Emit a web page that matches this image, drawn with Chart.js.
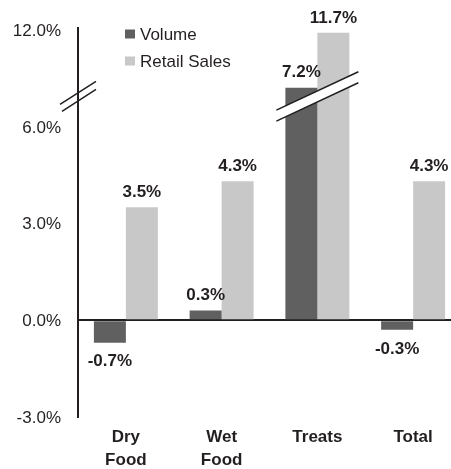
<!DOCTYPE html>
<html lang="en">
<head>
  <meta charset="UTF-8">
  <title>Volume vs Retail Sales</title>
  <script src="https://cdn.jsdelivr.net/npm/chart.js"></script>
  <style>
    body {
      margin: 0;
      padding: 0;
      background: #fff;
      overflow: hidden;
    }

    .wrap {
      width: 461px;
      height: 469px;
    }
  </style>
</head>
<body>
  <div class="wrap"><canvas id="chart"></canvas></div>

  <script>
    // chart data
    const categories = [['Dry', 'Food'], ['Wet', 'Food'], 'Treats', 'Total'];
    const volume = [-0.7, 0.3, 7.2, -0.3];
    const retailSales = [3.5, 4.3, 11.7, 4.3];
    const yTicks = [-3, 0, 3, 6, 12];

    const FONT = "'Liberation Sans', Arial, sans-serif";
    const INK = '#231f20';

    // the y axis is broken: everything above 7.5% is squeezed to a third
    const BREAK_FROM = 7.5;
    const SQUEEZE = 1 / 3;
    const BREAK_MARK = 6.93;

    function squash(v) {
      return v <= BREAK_FROM ? v : BREAK_FROM + (v - BREAK_FROM) * SQUEEZE;
    }
    function unsquash(v) {
      return v <= BREAK_FROM ? v : BREAK_FROM + (v - BREAK_FROM) / SQUEEZE;
    }

    class BrokenScale extends Chart.LinearScale {
      configure() {
        super.configure();
        this._startValue = squash(this.min);
        this._endValue = squash(this.max);
        this._valueRange = this._endValue - this._startValue;
      }
      getPixelForValue(value) {
        if (value === null || value === undefined) return NaN;
        return this.getPixelForDecimal((squash(value) - this._startValue) / this._valueRange);
      }
      getValueForPixel(pixel) {
        return unsquash(this._startValue + this.getDecimalForPixel(pixel) * this._valueRange);
      }
    }
    BrokenScale.id = 'broken';
    BrokenScale.defaults = Chart.LinearScale.defaults;
    Chart.register(BrokenScale);

    // value labels above / below each bar
    const valueLabels = {
      id: 'valueLabels',
      afterDatasetsDraw(chart) {
        const ctx = chart.ctx;
        ctx.save();
        ctx.font = 'bold 17px ' + FONT;
        ctx.fillStyle = INK;
        ctx.textAlign = 'center';
        ctx.textBaseline = 'middle';
        chart.data.datasets.forEach((ds, i) => {
          chart.getDatasetMeta(i).data.forEach((bar, j) => {
            const v = ds.data[j];
            const y = v >= 0 ? bar.y - 15 : bar.y + 19;
            ctx.fillText(v.toFixed(1) + '%', bar.x, y);
          });
        });
        ctx.restore();
      }
    };

    // break marks on the axis and across the Treats bars
    const breakMarks = {
      id: 'breakMarks',
      afterDatasetsDraw(chart) {
        const ctx = chart.ctx;
        const yScale = chart.scales.y;
        const xScale = chart.scales.x;
        const yc = yScale.getPixelForValue(BREAK_MARK);
        ctx.save();
        ctx.strokeStyle = INK;
        ctx.lineWidth = 1.5;

        // across the Treats bars
        const xc = xScale.getPixelForValue(2);
        const hw = 41, dy = 19.2, gap = 5.5;
        ctx.fillStyle = '#fff';
        ctx.beginPath();
        ctx.moveTo(xc - hw, yc + dy - gap);
        ctx.lineTo(xc + hw, yc - dy - gap);
        ctx.lineTo(xc + hw, yc - dy + gap);
        ctx.lineTo(xc - hw, yc + dy + gap);
        ctx.closePath();
        ctx.fill();
        ctx.beginPath();
        ctx.moveTo(xc - hw, yc + dy - gap);
        ctx.lineTo(xc + hw, yc - dy - gap);
        ctx.moveTo(xc - hw, yc + dy + gap);
        ctx.lineTo(xc + hw, yc - dy + gap);
        ctx.stroke();

        // on the y axis
        const ax = chart.chartArea.left;
        const aw = 18, ady = 11.5, agap = 3.5;
        ctx.beginPath();
        ctx.moveTo(ax - aw, yc + ady - agap);
        ctx.lineTo(ax + aw, yc - ady - agap);
        ctx.moveTo(ax - aw + 2, yc + ady + agap);
        ctx.lineTo(ax + aw, yc - ady + agap + 1);
        ctx.stroke();
        ctx.restore();
      }
    };

    // legend drawn by hand in the upper left of the plot
    const boxLegend = {
      id: 'boxLegend',
      afterDraw(chart) {
        const ctx = chart.ctx;
        ctx.save();
        ctx.font = '17px ' + FONT;
        ctx.textBaseline = 'middle';
        ctx.textAlign = 'left';
        chart.data.datasets.forEach((ds, i) => {
          const y = 34 + i * 27;
          ctx.fillStyle = ds.backgroundColor;
          ctx.fillRect(125, y - 4.5, 10, 9);
          ctx.fillStyle = INK;
          ctx.fillText(ds.label, 140, y + 1);
        });
        ctx.restore();
      }
    };

    const ctx = document.getElementById('chart').getContext('2d');
    new Chart(ctx, {
      type: 'bar',
      data: {
        labels: categories,
        datasets: [
          {
            label: 'Volume',
            data: volume,
            backgroundColor: '#606060',
            categoryPercentage: 0.668,
            barPercentage: 1
          },
          {
            label: 'Retail Sales',
            data: retailSales,
            backgroundColor: '#c8c8c8',
            categoryPercentage: 0.668,
            barPercentage: 1
          }
        ]
      },
      options: {
        responsive: true,
        maintainAspectRatio: false,
        devicePixelRatio: 1,
        animation: false,
        layout: { padding: { top: 28, right: 0, bottom: 0, left: 0 } },
        plugins: {
          legend: { display: false },
          tooltip: { enabled: false }
        },
        scales: {
          x: {
            grid: { display: false, drawTicks: false },
            border: { display: false },
            afterFit: (s) => { s.height = 52; },
            ticks: {
              color: INK,
              padding: 9,
              maxRotation: 0,
              autoSkip: false,
              font: { family: FONT, size: 17, weight: 'bold', lineHeight: 23 / 17 }
            }
          },
          y: {
            type: 'broken',
            min: -3,
            max: 12.15,
            afterBuildTicks: (s) => { s.ticks = yTicks.map(v => ({ value: v })); },
            afterFit: (s) => { s.width = 78; },
            grid: {
              drawTicks: false,
              lineWidth: 2,
              color: (c) => (c.tick && c.tick.value === 0 ? INK : 'rgba(0,0,0,0)')
            },
            border: { display: true, color: INK, width: 2 },
            ticks: {
              color: INK,
              padding: 17,
              labelOffset: 1.5,
              font: { family: FONT, size: 17 },
              callback: (v) => v.toFixed(1) + '%'
            }
          }
        }
      },
      plugins: [valueLabels, breakMarks, boxLegend]
    });
  </script>
</body>
</html>
